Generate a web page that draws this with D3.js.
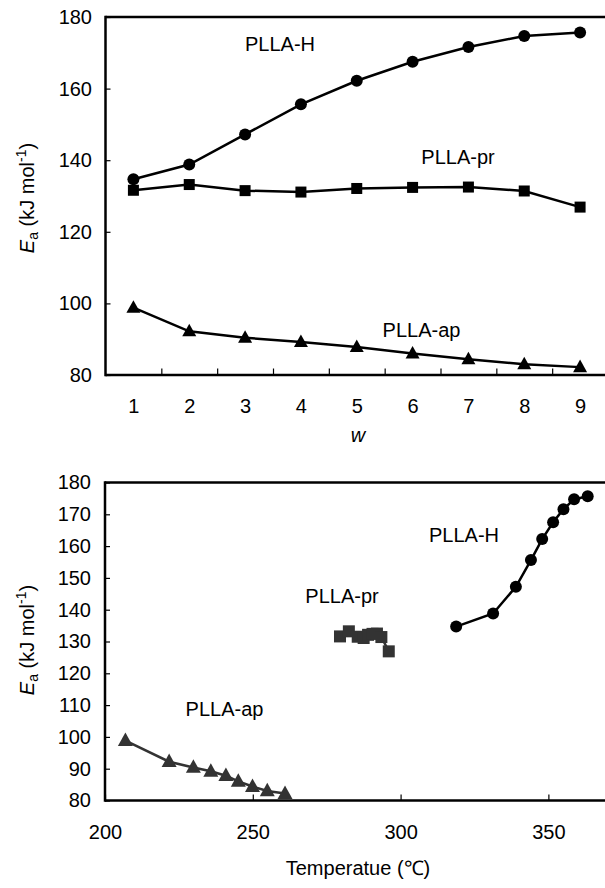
<!DOCTYPE html>
<html>
<head>
<meta charset="utf-8">
<script src="https://cdn.jsdelivr.net/npm/d3@7"></script>
<style>
  html, body { margin: 0; padding: 0; background: #fff; }
  svg text { font-family: "Liberation Sans", Arial, sans-serif; fill: #000; }
</style>
</head>
<body>
<svg id="chart" width="605" height="888"></svg>
<script>
// ---- data ----
const wValues = [1, 2, 3, 4, 5, 6, 7, 8, 9];
const eaH  = [134.7, 138.8, 147.2, 155.6, 162.2, 167.5, 171.6, 174.7, 175.7];
const eaPr = [131.6, 133.2, 131.5, 131.1, 132.1, 132.4, 132.5, 131.4, 126.9];
const eaAp = [98.8, 92.2, 90.4, 89.2, 87.8, 86.0, 84.4, 83.0, 82.2];
const tempH  = [318.8, 331.3, 339.0, 344.1, 347.9, 351.6, 355.1, 358.7, 363.3];
const tempPr = [279.5, 282.5, 285.5, 287.5, 289.0, 290.5, 292.0, 293.5, 296.0];
const tempAp = [206.9, 221.7, 229.9, 235.8, 240.9, 245.1, 249.9, 254.9, 260.9];
const topYTicks = [80, 100, 120, 140, 160, 180];
const botYTicks = [80, 90, 100, 110, 120, 130, 140, 150, 160, 170, 180];
const botXTicks = [200, 250, 300, 350];
const seriesNames = ["PLLA-H", "PLLA-pr", "PLLA-ap"];

const svg = d3.select("#chart");
const FS = 20;

function drawMarker(g, shape, cx, cy, size, color) {
  if (shape === "circle") {
    g.append("circle").attr("cx", cx).attr("cy", cy).attr("r", size / 2).attr("fill", color);
  } else if (shape === "square") {
    g.append("rect").attr("x", cx - size / 2).attr("y", cy - size / 2)
      .attr("width", size).attr("height", size).attr("fill", color);
  } else {
    const h = size * 0.9;
    g.append("path").attr("d",
      `M${cx},${cy - h * 0.6}L${cx + size / 2},${cy + h * 0.4}L${cx - size / 2},${cy + h * 0.4}Z`)
      .attr("fill", color);
  }
}

function yLabel(g, cx, cy) {
  const t = g.append("text")
    .attr("transform", `translate(${cx},${cy}) rotate(-90)`)
    .attr("text-anchor", "middle").attr("dy", "0.35em")
    .style("font-size", FS + "px");
  t.append("tspan").style("font-style", "italic").text("E");
  t.append("tspan").attr("dy", "4").style("font-size", "14px").text("a");
  t.append("tspan").attr("dy", "-4").text(" (kJ mol");
  t.append("tspan").attr("dy", "-8").style("font-size", "14px").text("-1");
  t.append("tspan").attr("dy", "8").text(")");
}

// ================= TOP CHART =================
{
  const L = 105.5, R = 608, T = 17, B = 375;
  const x = d3.scaleLinear().domain([0.5, 9.5]).range([L, R]);
  const y = d3.scaleLinear().domain([80, 180]).range([B, T]);
  const g = svg.append("g");

  const yAx = g.append("g").attr("transform", `translate(${L},0)`)
    .call(d3.axisLeft(y).tickValues(topYTicks).tickSize(-5).tickPadding(13.5));
  yAx.select(".domain").remove();
  yAx.selectAll("line").attr("stroke", "#000").attr("stroke-width", 1.2);
  yAx.selectAll("text").style("font-size", FS + "px").attr("font-family", null);

  const xLab = g.append("g").attr("transform", `translate(0,${B})`)
    .call(d3.axisBottom(x).tickValues(wValues).tickSize(0).tickPadding(24));
  xLab.select(".domain").remove();
  xLab.selectAll("text").style("font-size", FS + "px").attr("font-family", null);

  const xMarks = g.append("g").attr("transform", `translate(0,${B})`)
    .call(d3.axisBottom(x).tickValues(d3.range(1.5, 9.5, 1)).tickSize(-6.5).tickFormat(""));
  xMarks.select(".domain").remove();
  xMarks.selectAll("line").attr("stroke", "#000").attr("stroke-width", 1.2);

  g.append("line").attr("x1", L).attr("x2", 605).attr("y1", T).attr("y2", T).attr("stroke", "#000").attr("stroke-width", 2.5);
  g.append("line").attr("x1", L).attr("x2", 605).attr("y1", B).attr("y2", B).attr("stroke", "#000").attr("stroke-width", 2.5);
  g.append("line").attr("x1", L).attr("x2", L).attr("y1", T - 1.2).attr("y2", B + 1.2).attr("stroke", "#000").attr("stroke-width", 2.5);

  const series = [
    { vals: eaH, shape: "circle", size: 12 },
    { vals: eaPr, shape: "square", size: 11 },
    { vals: eaAp, shape: "triangle", size: 14 }
  ];
  const line = d3.line().x(d => x(d[0])).y(d => y(d[1]));
  series.forEach(s => {
    const pts = wValues.map((w, i) => [w, s.vals[i]]);
    g.append("path").attr("d", line(pts)).attr("fill", "none").attr("stroke", "#000").attr("stroke-width", 2.5);
    pts.forEach(p => drawMarker(g, s.shape, x(p[0]), y(p[1]), s.size, "#000"));
  });

  const labs = [[280, 43.5], [458, 156.5], [421.5, 330]];
  seriesNames.forEach((n, i) => {
    g.append("text").attr("x", labs[i][0]).attr("y", labs[i][1]).attr("dy", "0.35em")
      .attr("text-anchor", "middle").style("font-size", FS + "px").text(n);
  });

  g.append("text").attr("x", 358).attr("y", 435).attr("dy", "0.35em").attr("text-anchor", "middle")
    .style("font-size", FS + "px").style("font-style", "italic").text("w");
  yLabel(g, 27, 198);
}

// ================= BOTTOM CHART =================
{
  const L = 105, R = 607.5, T = 482.5, B = 800.5;
  const x = d3.scaleLinear().domain([200, 370]).range([L, R]);
  const y = d3.scaleLinear().domain([80, 180]).range([B, T]);
  const g = svg.append("g");

  const yAx = g.append("g").attr("transform", `translate(${L},0)`)
    .call(d3.axisLeft(y).tickValues(botYTicks).tickSize(-5).tickPadding(14));
  yAx.select(".domain").remove();
  yAx.selectAll("line").attr("stroke", "#000").attr("stroke-width", 1.2);
  yAx.selectAll("text").style("font-size", FS + "px").attr("font-family", null);

  const xAx = g.append("g").attr("transform", `translate(0,${B})`)
    .call(d3.axisBottom(x).tickValues(botXTicks).tickSize(-6).tickPadding(24));
  xAx.select(".domain").remove();
  xAx.selectAll("line").attr("stroke", "#000").attr("stroke-width", 1.2);
  xAx.selectAll("text").style("font-size", FS + "px").attr("font-family", null);

  g.append("line").attr("x1", L).attr("x2", 605).attr("y1", T).attr("y2", T).attr("stroke", "#000").attr("stroke-width", 2.5);
  g.append("line").attr("x1", L).attr("x2", 605).attr("y1", B).attr("y2", B).attr("stroke", "#000").attr("stroke-width", 2.5);
  g.append("line").attr("x1", L).attr("x2", L).attr("y1", T - 1.2).attr("y2", B + 1.2).attr("stroke", "#000").attr("stroke-width", 2.5);

  const series = [
    { temps: tempH, vals: eaH, shape: "circle", size: 12, color: "#000" },
    { temps: tempPr, vals: eaPr, shape: "square", size: 12, color: "#333" },
    { temps: tempAp, vals: eaAp, shape: "triangle", size: 15, color: "#333" }
  ];
  const line = d3.line().x(d => x(d[0])).y(d => y(d[1]));
  series.forEach(s => {
    const pts = s.temps.map((t, i) => [t, s.vals[i]]);
    g.append("path").attr("d", line(pts)).attr("fill", "none").attr("stroke", s.color).attr("stroke-width", 2.5);
    pts.forEach(p => drawMarker(g, s.shape, x(p[0]), y(p[1]), s.size, s.color));
  });

  const labs = [[464, 535], [342, 595.5], [224.5, 708.5]];
  seriesNames.forEach((n, i) => {
    g.append("text").attr("x", labs[i][0]).attr("y", labs[i][1]).attr("dy", "0.35em")
      .attr("text-anchor", "middle").style("font-size", FS + "px").text(n);
  });

  g.append("text").attr("x", 358).attr("y", 868).attr("dy", "0.35em").attr("text-anchor", "middle")
    .style("font-size", FS + "px").text("Temperatue (℃)");
  yLabel(g, 27, 640);
}
</script>
</body>
</html>
